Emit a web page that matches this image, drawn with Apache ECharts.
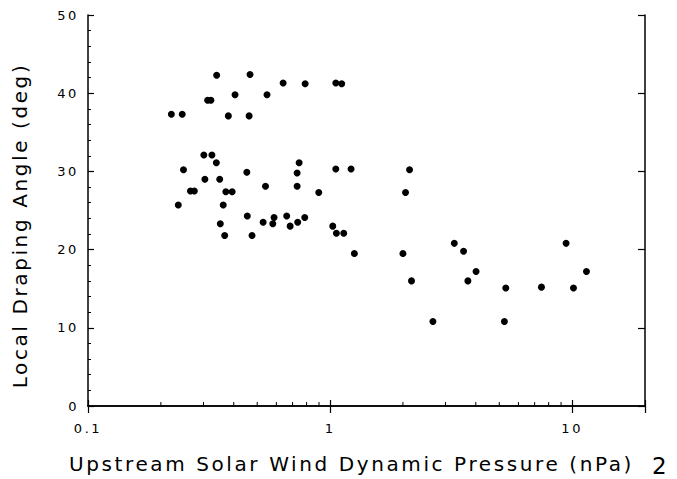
<!DOCTYPE html>
<html>
<head>
<meta charset="utf-8">
<script src="https://cdn.jsdelivr.net/npm/echarts@6/dist/echarts.min.js"></script>
<style>
  html, body { margin: 0; padding: 0; background: #fff; }
  #chart { width: 677px; height: 479px; }
  /* the original plot font is wide-set */
  #chart text { letter-spacing: 2.6px; }
</style>
</head>
<body>
<div id="chart"></div>
<script>
// ── Draping angle vs upstream dynamic pressure ──

const pressure = [
  0.340, 0.467, 0.640, 0.789, 1.056, 1.117,
  0.312, 0.322, 0.405, 0.549,
  0.221, 0.245, 0.380, 0.463,
  0.301, 0.325, 0.339, 0.745,
  0.248, 0.453, 0.731, 1.056, 1.221, 2.13,
  0.304, 0.350,
  0.265, 0.275, 0.371, 0.394, 0.541, 0.731, 0.898, 2.05,
  0.236, 0.362,
  0.352, 0.367, 0.455, 0.476, 0.529, 0.580, 0.587, 0.662, 0.684, 0.735, 0.786,
  1.026, 1.062, 1.139,
  1.26, 2.00, 2.17, 2.66, 3.26, 3.56, 3.71, 4.01, 5.32, 5.25, 7.47, 9.44, 10.13, 11.46,
];
const angle = [
  42.3, 42.4, 41.3, 41.2, 41.3, 41.2,
  39.1, 39.1, 39.8, 39.8,
  37.3, 37.3, 37.1, 37.1,
  32.1, 32.1, 31.1, 31.1,
  30.2, 29.9, 29.8, 30.3, 30.3, 30.2,
  29.0, 29.0,
  27.5, 27.5, 27.4, 27.4, 28.1, 28.1, 27.3, 27.3,
  25.7, 25.7,
  23.3, 21.8, 24.3, 21.8, 23.5, 23.3, 24.1, 24.3, 23.0, 23.5, 24.1,
  23.0, 22.1, 22.1,
  19.5, 19.5, 16.0, 10.8, 20.8, 19.8, 16.0, 17.2, 15.1, 10.8, 15.2, 20.8, 15.1, 17.2,
];
const xMajorLabels = [0.1, 1, 10];
const xMinorTicks = [0.2, 0.3, 0.4, 0.5, 0.6, 0.7, 0.8, 0.9, 2, 3, 4, 5, 6, 7, 8, 9];

const FONT = 'DejaVu Sans';
const chart = echarts.init(document.getElementById('chart'), null, { renderer: 'svg' });

const frameLine = { show: true, lineStyle: { color: '#000', width: 1.5 } };
const isMajor = v => xMajorLabels.some(m => Math.abs(m - v) / m < 1e-6);
// inward ticks: a negative length flips them into the plot
const tick = len => ({ show: true, inside: false, length: -len, lineStyle: { color: '#000', width: 1.2 } });

chart.setOption({
  backgroundColor: '#fff',
  animation: false,
  grid: { left: 88, right: 32, top: 15, bottom: 67 },
  xAxis: [{
    type: 'log', logBase: 10, min: 0.1, max: 20, position: 'bottom',
    axisLine: frameLine,
    axisTick: tick(6),
    splitLine: { show: false },
    axisLabel: {
      color: '#000', fontFamily: FONT, fontSize: 13, margin: 16,
      formatter: v => isMajor(v) ? String(v) : '',
    },
    name: 'Upstream Solar Wind Dynamic Pressure (nPa)',
    nameLocation: 'middle', nameGap: 48,
    nameTextStyle: { color: '#000', fontFamily: FONT, fontSize: 20, padding: [0, 30, 0, 0] },
  }, {
    type: 'log', logBase: 10, min: 0.1, max: 20, position: 'top',
    axisLine: frameLine,
    axisTick: tick(7),
    axisLabel: { show: false },
    splitLine: { show: false },
  }],
  yAxis: [{
    type: 'value', min: 0, max: 50, interval: 10, position: 'left',
    axisLine: frameLine,
    axisTick: tick(6),
    minorTick: { show: true, splitNumber: 5, length: -3, lineStyle: { color: '#000', width: 1 } },
    splitLine: { show: false },
    axisLabel: { color: '#000', fontFamily: FONT, fontSize: 13, margin: 9 },
    name: 'Local Draping Angle (deg)',
    nameLocation: 'middle', nameGap: 58, nameRotate: 90,
    nameTextStyle: { color: '#000', fontFamily: FONT, fontSize: 20, padding: [0, 30, 0, 0] },
  }, {
    type: 'value', min: 0, max: 50, interval: 10, position: 'right',
    axisLine: frameLine,
    axisTick: tick(7),
    axisLabel: { show: false },
    splitLine: { show: false },
  }],
  series: [{
    type: 'scatter',
    data: pressure.map((p, i) => [p, angle[i]]),
    symbol: 'circle', symbolSize: 7,
    itemStyle: { color: '#000', opacity: 1 },
  }, {
    // log-axis minor ticks on the bottom edge
    type: 'custom',
    data: xMinorTicks.map(v => [v, 0]),
    renderItem: (params, api) => {
      const p = api.coord([api.value(0), 0]);
      return {
        type: 'line',
        shape: { x1: p[0], y1: p[1], x2: p[0], y2: p[1] - 4 },
        style: { stroke: '#000', lineWidth: 1 },
      };
    },
    silent: true,
  }],
  graphic: [{
    type: 'text', left: 652, top: 454,
    style: { text: '2', fontFamily: FONT, fontSize: 23, fill: '#000' },
  }],
});
</script>
</body>
</html>
